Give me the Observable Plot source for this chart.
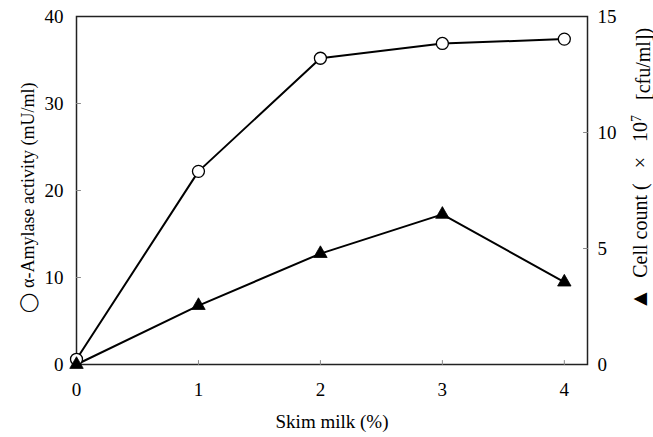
<!DOCTYPE html>
<html>
<head>
<meta charset="utf-8">
<script src="https://cdn.jsdelivr.net/npm/d3@7"></script>
<script src="https://cdn.jsdelivr.net/npm/@observablehq/plot@0.6"></script>
<style>
  html, body { margin: 0; padding: 0; background: #fff; }
  svg, svg text { font-family: "Liberation Serif", "Times New Roman", serif !important; }
</style>
</head>
<body>
<div id="chart"></div>
<script>
// Data
const skimMilk = [0, 1, 2, 3, 4];                  // Skim milk (%)
const amylase = [0.6, 22.2, 35.2, 36.9, 37.4];     // α-Amylase activity (mU/ml), left axis
const cellCount = [0, 2.54, 4.78, 6.47, 3.55];     // Cell count (×10^7 cfu/ml), right axis
const leftTicks = [0, 10, 20, 30, 40];
const rightTicks = [0, 5, 10, 15];
const xTicks = [0, 1, 2, 3, 4];
const xLabel = "Skim milk (%)";
const leftLabel = "◯ α-Amylase activity (mU/ml)";
const rightLabelParts = ["▲", "  Cell count (   ×   10", "7", "   [cfu/ml])"];

const leftMax = 40, rightMax = 15;
const toLeft = v => v * leftMax / rightMax;

const amyData = skimMilk.map((x, i) => ({x, y: amylase[i]}));
const cellData = skimMilk.map((x, i) => ({x, y: toLeft(cellCount[i])}));

const tickShape = {
  draw(context, l) { context.moveTo(0, 0); context.lineTo(0, -l); }
};

const FS = 19;

const chart = Plot.plot({
  width: 653,
  height: 437,
  marginLeft: 76,
  marginRight: 66,
  marginTop: 16,
  marginBottom: 73,
  style: {fontFamily: '"Liberation Serif", "Times New Roman", serif', fontSize: FS + "px", background: "white", color: "black"},
  x: {domain: [0, 4.19]},
  y: {domain: [0, leftMax]},
  marks: [
    Plot.frame({stroke: "#222", strokeWidth: 1.5}),
    // inner ticks
    Plot.vector(xTicks.slice(1), {x: d => d, frameAnchor: "bottom", length: 4, anchor: "start", rotate: 0, shape: tickShape, stroke: "#888", strokeWidth: 1}),
    Plot.vector(leftTicks.slice(1, -1), {y: d => d, frameAnchor: "left", length: 4, anchor: "start", rotate: 90, shape: tickShape, stroke: "#888", strokeWidth: 1}),
    Plot.vector(rightTicks.slice(1, -1).map(toLeft), {y: d => d, frameAnchor: "right", length: 4, anchor: "start", rotate: -90, shape: tickShape, stroke: "#888", strokeWidth: 1}),
    Plot.axisX({ticks: xTicks, tickSize: 0, tickPadding: 18, tickFormat: d => String(d), fontSize: FS, label: null}),
    Plot.axisY({ticks: leftTicks, tickSize: 0, tickPadding: 13, fontSize: FS, label: null}),
    Plot.axisY({anchor: "right", ticks: rightTicks.map(toLeft), tickSize: 0, tickPadding: 10, fontSize: FS, tickFormat: d => String(Math.round(d * rightMax / leftMax)), label: null}),
    // axis titles
    Plot.text([xLabel], {frameAnchor: "bottom", textAnchor: "middle", lineAnchor: "middle", dy: 57, fontSize: FS}),
    Plot.text([leftLabel], {frameAnchor: "bottom-left", textAnchor: "start", lineAnchor: "middle", rotate: -90, dx: -48, dy: -52, fontSize: 18}),
    Plot.text([rightLabelParts.join("")], {frameAnchor: "bottom-right", textAnchor: "start", lineAnchor: "middle", rotate: -90, dx: 53, dy: -54, fontSize: 20}),
    // series
    Plot.line(amyData, {x: "x", y: "y", stroke: "black", strokeWidth: 2}),
    Plot.line(cellData, {x: "x", y: "y", stroke: "black", strokeWidth: 2}),
    Plot.dot(amyData, {x: "x", y: "y", r: 6, fill: "white", stroke: "black", strokeWidth: 1.3}),
    Plot.dot(cellData, {x: "x", y: "y", r: 5, symbol: "triangle", fill: "black", stroke: "black", strokeWidth: 0.8})
  ]
});

// larger marker glyph and superscript exponent in the right-hand axis title
d3.select(chart).selectAll("text").filter(function() { return this.textContent === rightLabelParts.join(""); })
  .each(function() {
    const t = d3.select(this).style("white-space", "pre").text("");
    t.append("tspan").attr("font-size", "1.15em").text(rightLabelParts[0]);
    t.append("tspan").text(rightLabelParts[1]);
    t.append("tspan").attr("dy", "-0.45em").attr("font-size", "0.7em").text(rightLabelParts[2]);
    t.append("tspan").attr("dy", "0.45em").text(rightLabelParts[3]);
  });

document.getElementById("chart").appendChild(chart);
</script>
</body>
</html>
